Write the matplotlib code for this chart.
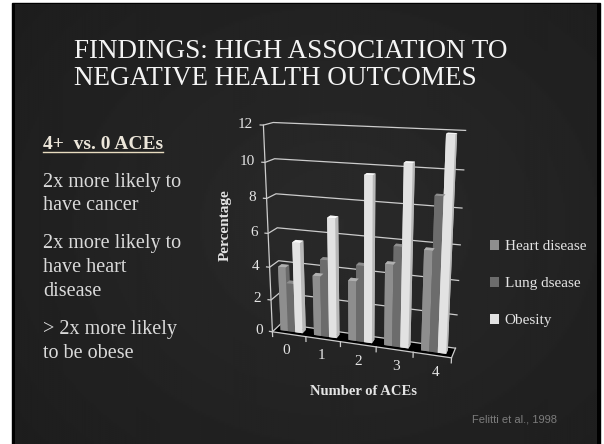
import numpy as np
import matplotlib
matplotlib.use("Agg")
import matplotlib.pyplot as plt
from matplotlib.patches import Rectangle, Patch
from mpl_toolkits.mplot3d import proj3d
from mpl_toolkits.mplot3d.art3d import Poly3DCollection

# ---- data -------------------------------------------------------------
categories = ["0", "1", "2", "3", "4"]
series_names = ["Heart disease", "Lung dsease", "Obesity"]
heart = [3.95, 3.65, 3.6, 4.8, 5.8]
lung = [3.0, 4.65, 4.55, 5.85, 8.75]
obesity = [5.5, 7.1, 9.6, 10.35, 11.9]
y_ticks = [0, 2, 4, 6, 8, 10, 12]

# ---- styling ----------------------------------------------------------
SERIF = "Liberation Serif"
front_cols = ["#8e8e8e", "#6c6c6c", "#e2e2e2"]
top_cols = ["#b0b0b0", "#8e8e8e", "#f7f7f7"]
side_cols = ["#6a6a6a", "#4e4e4e", "#b8b8b8"]
grid_col = "#cccccc"
text_col = "#e4e4e4"

W, H = 604, 444
fig = plt.figure(figsize=(W / 100, H / 100), dpi=100, facecolor="white")

# ---- slide background (pixel coordinates) -----------------------------
bg = fig.add_axes([0, 0, 1, 1], zorder=-10)
bg.set_xlim(0, W)
bg.set_ylim(H, 0)
bg.axis("off")
bg.add_patch(Rectangle((12, 3), 588, H - 3, color="black", zorder=0))
gy, gx = np.mgrid[0:220, 0:300]
r = np.sqrt(((gx - 165) / 210.0) ** 2 + ((gy - 110) / 170.0) ** 2)
shade = 0.165 - 0.065 * np.clip(r, 0, 1.3) / 1.3
bg.imshow(shade, cmap="gray", vmin=0, vmax=1, extent=(15, 597, H, 5),
          aspect="auto", zorder=1, interpolation="bilinear")

# ---- slide text -------------------------------------------------------
bg.text(74, 58, "FINDINGS: HIGH ASSOCIATION TO", family=SERIF, fontsize=19.5,
        color="#f4f4f4", va="baseline", zorder=5)
bg.text(74, 85, "NEGATIVE HEALTH OUTCOMES", family=SERIF, fontsize=19.5,
        color="#f4f4f4", va="baseline", zorder=5)

bg.text(43, 149, "4+  vs. 0 ACEs", family=SERIF, fontsize=14, weight="bold",
        color="#ece6da", va="baseline", zorder=5)
bg.plot([43, 163], [152.5, 152.5], color="#e8dcc0", lw=1, zorder=5)

body_lines = [
    (187, "2x more likely to"), (210, "have cancer"),
    (248, "2x more likely to"), (272, "have heart"), (296, "disease"),
    (334, "> 2x more likely"), (358, "to be obese"),
]
for yb, s in body_lines:
    bg.text(43, yb, s, family=SERIF, fontsize=14.5, color="#dadada",
            va="baseline", zorder=5)

bg.text(472, 419, "Felitti et al., 1998", family="Liberation Sans", fontsize=8,
        color="#7c7c7c", va="center", zorder=5)

bg.text(225, 225, "Percentage", family=SERIF, fontsize=11, weight="bold",
        color=text_col, rotation=90, ha="center", va="center", zorder=5)
bg.text(363, 391, "Number of ACEs", family=SERIF, fontsize=10.5, weight="bold",
        color=text_col, ha="center", va="center", zorder=5)

handles = [Patch(facecolor=c, edgecolor="none") for c in front_cols]
bg.legend(handles, series_names, loc="upper left", bbox_to_anchor=(490, 240),
          bbox_transform=bg.transData, frameon=False,
          prop=dict(family=SERIF, size=11), labelcolor=text_col,
          handlelength=0.6, handleheight=0.6, handletextpad=0.35,
          labelspacing=1.55, borderpad=0, borderaxespad=0)

# ---- 3D clustered columns --------------------------------------------
ax = fig.add_axes([0.3545, 0.111, 0.475, 0.684], projection="3d",
                  computed_zorder=False)
ax.set_proj_type("persp", focal_length=0.42)
ax.view_init(elev=17, azim=-72)
ax.set_box_aspect((4.4, 0.5, 5))
ax.set_xlim(-0.5, 4.5)
ax.set_ylim(0, 1)
ax.set_zlim(0, 12)
ax.set_axis_off()
ax.patch.set_visible(False)
M = ax.get_proj()


def label3d(x, y, z, s, **kw):
    """Place a 2D label at the projected position of a 3D point."""
    xp, yp, _ = proj3d.proj_transform(x, y, z, M)
    ax.text2D(xp, yp, s, transform=ax.transData, family=SERIF, fontsize=11,
              color=text_col, zorder=6, **kw)


x0, x1 = -0.5, 4.5
# floor
floor = Poly3DCollection([[(x0, 0, 0), (x1, 0, 0), (x1, 1, 0), (x0, 1, 0)]],
                         facecolor="black", edgecolor="none", zorder=1)
ax.add_collection3d(floor)

# gridlines on left and back walls, ticks on value axis
for t in y_ticks:
    ax.plot([x0 - 0.09, x0, x0, x1], [0, 0, 1, 1], [t, t, t, t],
            color=grid_col, lw=0.9, zorder=2)
    label3d(x0 - 0.3, 0, t, str(t), ha="right", va="center")
ax.plot([x0, x0], [0, 0], [0, 12], color=grid_col, lw=0.9, zorder=2)

# category axis along front edge of floor
ax.plot([x0, x1, x1], [0, 0, 1], [0, 0, 0], color=grid_col, lw=0.9, zorder=2)
for b in np.arange(x0, x1 + 0.01, 1.0):
    ax.plot([b, b], [0, 0], [0, -0.3], color=grid_col, lw=0.9, zorder=2)
for i, c in enumerate(categories):
    label3d(i + (i - 2) * 0.05, 0, -1.05, c, ha="center", va="center")

# bars
bw = 0.22
series = [heart, lung, obesity]
xs, ys, zs, dxs, dys, dzs, cols = [], [], [], [], [], [], []
for j, vals in enumerate(series):
    for i, v in enumerate(vals):
        xs.append(i - 1.5 * bw + j * bw)
        ys.append(0.3)
        zs.append(0)
        dxs.append(bw)
        dys.append(0.4)
        dzs.append(v)
        # faces: -z, +z, -y, +y, -x, +x
        cols += [side_cols[j], top_cols[j], front_cols[j], side_cols[j],
                 front_cols[j], side_cols[j]]
ax.bar3d(xs, ys, zs, dxs, dys, dzs, color=cols, shade=False,
         linewidth=0, edgecolor="none", zorder=3)

fig.savefig("out.png", dpi=100, facecolor=fig.get_facecolor())
